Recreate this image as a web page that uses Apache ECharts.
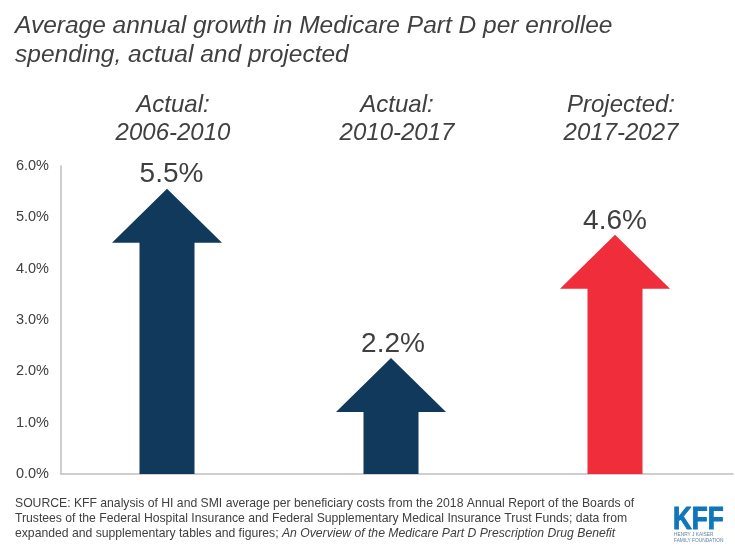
<!DOCTYPE html>
<html>
<head>
<meta charset="utf-8">
<style>
  html, body { margin: 0; padding: 0; background: #fff; }
  #chart { width: 735px; height: 551px; }
</style>
<script src="https://cdn.jsdelivr.net/npm/echarts@6/dist/echarts.min.js"></script>
</head>
<body>
<div id="chart"></div>
<script>
const periods = ['Actual:\n2006-2010', 'Actual:\n2010-2017', 'Projected:\n2017-2027']
const growth = [5.5, 2.2, 4.6]
const yTicks = { min: 0, max: 6, interval: 1 }

const titleText = 'Average annual growth in Medicare Part D per enrollee\nspending, actual and projected'
const sourceLines = [
  'SOURCE: KFF analysis of HI and SMI average per beneficiary costs from the 2018 Annual Report of the Boards of',
  'Trustees of the Federal Hospital Insurance and Federal Supplementary Medical Insurance Trust Funds; data from'
]
const sourceLast = 'expanded and supplementary tables and figures; '
const sourceItalic = 'An Overview of the Medicare Part D Prescription Drug Benefit'

const FONT = '"Liberation Sans", Arial, sans-serif'
const TEXT = '#404040'
const NAVY = '#11395C'
const RED = '#F02D3A'
const LOGO = '#0F76BC'

// arrows sit a little left of the band centres in the original, labels drift right of them
const ARROW_SHIFT = -6
const LABEL_SHIFT = [4.5, 2, 0]
const TIP_RISE = 3
const HEAD_H = 54
const HEAD_HALF = 55
const SHAFT_HALF = 27.5

function renderArrow (params, api) {
  const idx = api.value(0)
  const tip = api.coord([idx, api.value(1)])
  const base = api.coord([idx, 0])
  const x = tip[0] + ARROW_SHIFT
  const y = tip[1] - TIP_RISE
  const neck = y + HEAD_H
  return {
    type: 'group',
    children: [
      {
        type: 'polygon',
        shape: {
          points: [
            [x, y],
            [x + HEAD_HALF, neck],
            [x + SHAFT_HALF, neck],
            [x + SHAFT_HALF, base[1]],
            [x - SHAFT_HALF, base[1]],
            [x - SHAFT_HALF, neck],
            [x - HEAD_HALF, neck]
          ]
        },
        style: { fill: idx === periods.length - 1 ? RED : NAVY }
      },
      {
        type: 'text',
        style: {
          text: api.value(1).toFixed(1) + '%',
          x: x + LABEL_SHIFT[idx],
          y: y,
          align: 'center',
          verticalAlign: 'bottom',
          font: '28px ' + FONT,
          fill: TEXT
        }
      }
    ]
  }
}

const chart = echarts.init(document.getElementById('chart'), null, { renderer: 'canvas' })

chart.setOption({
  animation: false,
  backgroundColor: '#fff',
  title: {
    text: titleText,
    left: 10,
    top: 7,
    textStyle: {
      fontFamily: FONT,
      fontSize: 24.5,
      fontStyle: 'italic',
      fontWeight: 'normal',
      lineHeight: 28.5,
      color: TEXT
    }
  },
  grid: { left: 61, right: 2, top: 166, bottom: 77 },
  xAxis: [
    {
      type: 'category',
      data: periods,
      position: 'bottom',
      axisLine: { lineStyle: { color: '#BFBFBF', width: 1.5 } },
      axisTick: { show: false },
      axisLabel: { show: false }
    },
    {
      type: 'category',
      data: periods,
      position: 'top',
      axisLine: { show: false },
      axisTick: { show: false },
      axisLabel: {
        margin: 19,
        fontFamily: FONT,
        fontSize: 24,
        fontStyle: 'italic',
        lineHeight: 28,
        color: TEXT
      }
    }
  ],
  yAxis: {
    type: 'value',
    min: yTicks.min,
    max: yTicks.max,
    interval: yTicks.interval,
    axisLine: { show: true, lineStyle: { color: '#BFBFBF', width: 1.5 } },
    axisTick: { show: false },
    splitLine: { show: false },
    axisLabel: {
      margin: 12,
      padding: [4, 0, 0, 0],
      fontFamily: FONT,
      fontSize: 14.5,
      color: TEXT,
      formatter: v => v.toFixed(1) + '%'
    }
  },
  series: [
    {
      type: 'custom',
      renderItem: renderArrow,
      encode: { x: 0, y: 1 },
      data: growth.map((v, i) => [i, v]),
      clip: false
    }
  ],
  graphic: [
    {
      type: 'text',
      left: 15,
      top: 496,
      style: {
        text: sourceLines.join('\n') + '\n{n|' + sourceLast + '}{i|' + sourceItalic + '}',
        font: '12.2px ' + FONT,
        lineHeight: 15,
        fill: TEXT,
        rich: {
          n: { font: '12.2px ' + FONT, fill: TEXT, lineHeight: 15 },
          i: { font: 'italic 12.2px ' + FONT, fill: TEXT, lineHeight: 15 }
        }
      }
    },
    {
      type: 'text',
      x: 673,
      y: 505,
      scaleX: 0.84,
      style: { text: 'KFF', font: 'bold 31px ' + FONT, fill: LOGO, stroke: LOGO, lineWidth: 1 }
    },
    {
      type: 'text',
      x: 674,
      y: 532,
      style: {
        text: 'HENRY J KAISER\nFAMILY FOUNDATION',
        font: '4.8px ' + FONT,
        lineHeight: 6,
        fill: '#5B7F9F'
      }
    }
  ]
})
</script>
</body>
</html>
